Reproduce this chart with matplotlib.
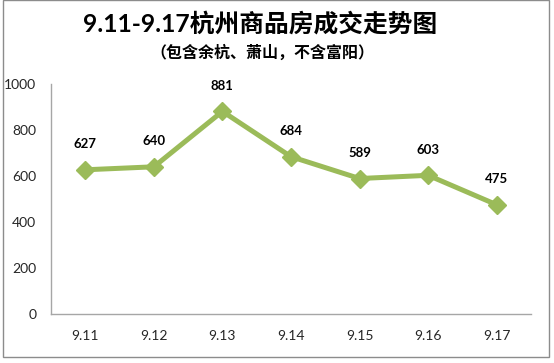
import matplotlib
matplotlib.use("Agg")
import matplotlib.pyplot as plt
from matplotlib.patches import Rectangle

dates = ["9.11", "9.12", "9.13", "9.14", "9.15", "9.16", "9.17"]
volumes = [627, 640, 881, 684, 589, 603, 475]
yticks = [0, 200, 400, 600, 800, 1000]
title = "9.11-9.17杭州商品房成交走势图"
subtitle = "（包含余杭、萧山，不含富阳）"

W, H = 554, 363
fig = plt.figure(figsize=(W / 100, H / 100), dpi=100)
fig.patch.set_facecolor("white")

# chart frame
fig.patches.append(Rectangle((3 / W, 1 - 357 / H), 546 / W, 357 / H,
                             transform=fig.transFigure, fill=False,
                             edgecolor="#8c8c8c", linewidth=1.0))

fam = ["Lato", "Noto Sans CJK SC", "DejaVu Sans"]
fig.text(260 / W, 1 - 24 / H, title, ha="center", va="center",
         fontsize=17.8, fontweight="bold", family=fam, color="black")
fig.text(262 / W, 1 - 53 / H, subtitle, ha="center", va="center",
         fontsize=11.5, fontweight="bold", family=fam, color="black")

left, right, top, bottom = 51, 531, 84, 314
ax = fig.add_axes([left / W, 1 - bottom / H, (right - left) / W, (bottom - top) / H])
ax.set_facecolor("none")
x = list(range(len(dates)))
ax.plot(x, volumes, color="#9BBB59", linewidth=3.6, marker="D",
        markersize=9.5, markerfacecolor="#9BBB59", markeredgecolor="#9BBB59",
        solid_joinstyle="miter", zorder=3)
for xi, v in zip(x, volumes):
    ax.annotate(str(v), (xi, v), xytext=(0, 14), textcoords="offset points",
                ha="center", va="bottom", fontsize=9.5, fontweight="bold",
                family=fam, color="black")

ax.set_xlim(-0.5, len(dates) - 0.5)
ax.set_ylim(0, 1000)
ax.set_xticks(x)
ax.set_xticklabels(dates, family=fam, fontsize=10, color="#262626")
ax.set_yticks(yticks)
ax.set_yticklabels([str(t) for t in yticks], family=fam, fontsize=10, color="#262626")
ax.tick_params(axis="both", length=0)
ax.tick_params(axis="x", pad=11.5)
ax.tick_params(axis="y", pad=10.5)
for s in ["top", "right"]:
    ax.spines[s].set_visible(False)
for s in ["left", "bottom"]:
    ax.spines[s].set_color("#a6a6a6")
    ax.spines[s].set_linewidth(1.0)

fig.savefig("out.png", dpi=100)
